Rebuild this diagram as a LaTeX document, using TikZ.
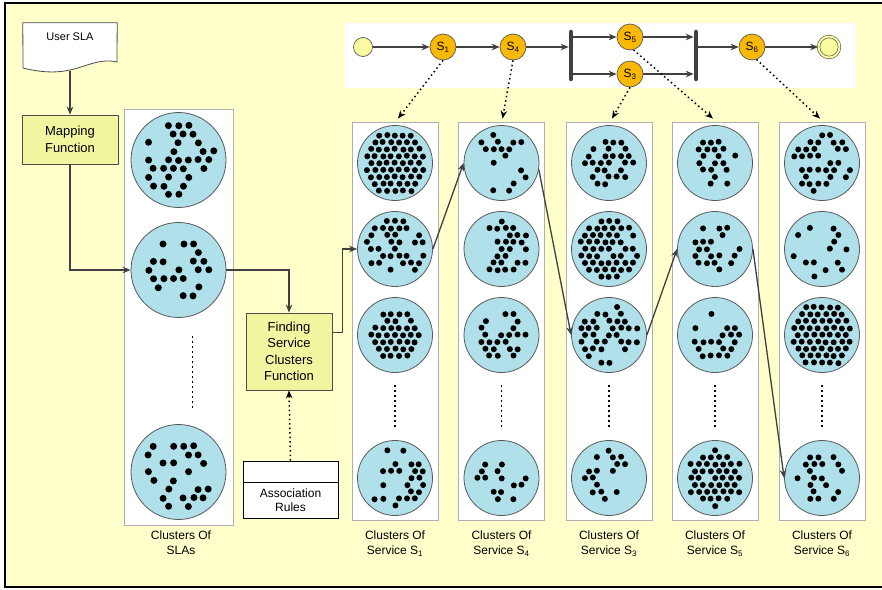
\documentclass[tikz,border=0pt]{standalone}
\usepackage{fontspec}
\setmainfont{Liberation Sans}
\usetikzlibrary{arrows.meta,calc}
\definecolor{bg}{RGB}{255,255,204}
\definecolor{boxy}{RGB}{242,245,160}
\definecolor{cblue}{RGB}{176,224,234}
\definecolor{stateor}{RGB}{250,184,0}
\definecolor{startc}{RGB}{250,250,160}
\definecolor{lin}{RGB}{64,64,64}
\definecolor{colgray}{RGB}{175,175,175}
% #1 x, #2 y, #3 limit radius, #4 probability, #5 spacing, #6 seed, #7 dot radius
\newcommand\dotcluster[7]{%
  \pgfmathsetseed{#6}%
  \foreach \i in {-5,...,5}{%
    \foreach \j in {-5,...,5}{%
      \pgfmathsetmacro\dx{#5*(\i+0.5*mod(abs(\j),2))}%
      \pgfmathsetmacro\dy{#5*0.866*\j}%
      \pgfmathsetmacro\rr{rnd}%
      \pgfmathtruncatemacro\ok{(veclen(\dx,\dy)<#3)&&(\rr<#4)}%
      \ifnum\ok=1 \fill (#1+\dx+rand*0.5,#2+\dy+rand*0.5) circle[radius=#7];\fi
    }}}
\begin{document}
\begin{tikzpicture}[x=1pt,y=-1pt,
  func/.style={draw=gray!60!black, fill=boxy, line width=0.8pt, align=center, font=\fontsize{13}{16.5}\selectfont, inner sep=0},
  colbox/.style={draw=colgray, fill=white, line width=0.9pt, inner sep=0},
  clus/.style={circle, draw=gray!70!black, fill=cblue, line width=0.8pt, minimum size=75pt, inner sep=0},
  slaclus/.style={clus, minimum size=95pt},
  state/.style={circle, draw=gray!70!black, fill=stateor, line width=0.7pt, minimum size=26pt, inner sep=0, font=\fontsize{12}{12}\selectfont},
  conn/.style={draw=lin, line width=1.3pt, -{Stealth[length=8pt,width=6.5pt]}},
  dotarr/.style={draw=black, line width=1.5pt, dash pattern=on 1.5pt off 3pt, -{Stealth[length=8pt,width=6.5pt]}},
  lbl/.style={align=center, font=\fontsize{12}{14.5}\selectfont, inner sep=0, anchor=north},
  bar/.style={line width=4.5pt, draw=lin, line cap=round},
  vdots/.style={line width=1.5pt, dash pattern=on 1.5pt off 3.5pt}
]
\useasboundingbox (0,0) rectangle (882,589);
\clip (0,0) rectangle (882,589);
% frame
\draw[line width=1.3pt, fill=bg] (5,3) rectangle (900,587);
% top panel
\fill[white] (345,23) rectangle (855,88);

% user SLA document
\node[inner sep=0, minimum width=94pt, minimum height=48pt] (usersla) at (70,47) {};
\draw[draw=gray!60!black, fill=white, line width=0.8pt] (usersla.north west) -- (usersla.north east) -- (117,62) .. controls (100,58) and (88,66) .. (70,70) .. controls (52,74) and (35,71) .. (23,68) -- cycle;
\node[font=\fontsize{11}{11}\selectfont, inner sep=0] (slatext) at (70,37) {User SLA};

% function boxes
\node[func, minimum width=96pt, minimum height=49pt] (map) at (70,139.5) {Mapping\\Function};
\node[func, minimum width=86pt, minimum height=77pt] (find) at (289,351.5) {Finding\\Service\\Clusters\\Function};

% association rules
\node[draw=black, fill=white, line width=0.8pt, minimum width=95pt, minimum height=57pt, inner sep=0] (assoc) at (290.5,489.5) {};
\draw[black, line width=0.8pt] (243,482) -- (338,482);
\node[font=\fontsize{12}{14.5}\selectfont, align=center, inner sep=0] (assoctext) at (290.5,500) {Association\\Rules};

% SLA column
\node[colbox, minimum width=109pt, minimum height=416pt] (slacol) at (178.5,317) {};
\node[slaclus] (sla1) at (178.5,160) {};
\node[slaclus] (sla2) at (178.5,270) {};
\node[slaclus] (sla3) at (178.5,472) {};
\draw[vdots] (192.5,336) -- (192.5,408);
\dotcluster{178.5}{160}{38}{0.45}{10}{11}{3.5}
\dotcluster{178.5}{270}{34}{0.36}{10}{17}{3.5}
\dotcluster{178.5}{472}{37}{0.36}{10}{13}{3.5}
\node[lbl] (lsla) at (181,531) {Clusters Of\\SLAs};

% service columns
\foreach \n/\x/\s in {1/395/1,2/501.5/4,3/609/3,4/715/5,5/822/6}{
  \node[colbox, minimum width=86pt, minimum height=398pt] (col\n) at (\x,321) {};
  \node[clus] (c\n a) at (\x,163) {};
  \node[clus] (c\n b) at (\x,249) {};
  \node[clus] (c\n c) at (\x,335) {};
  \node[clus] (c\n d) at (\x,478) {};
  \draw[vdots] (\x,385) -- (\x,428);
  \node[lbl] (l\n) at (\x,531) {Clusters Of\\Service S\textsubscript{\s}};
}
% dots S1
\dotcluster{395}{163}{32}{1}{8}{21}{3}
\dotcluster{395}{249}{31}{0.55}{8}{22}{3}
\dotcluster{395}{335}{27}{0.95}{8}{23}{3}
\dotcluster{395}{478}{30}{0.5}{8}{24}{3}
% dots S4
\dotcluster{501.5}{163}{30}{0.3}{8}{31}{3}
\dotcluster{501.5}{249}{28}{0.55}{8}{32}{3}
\dotcluster{501.5}{335}{26}{0.45}{8}{33}{3}
\dotcluster{501.5}{478}{26}{0.4}{8}{34}{3}
% dots S3
\dotcluster{609}{163}{26}{0.6}{8}{41}{3}
\dotcluster{609}{249}{29}{0.9}{8}{42}{3}
\dotcluster{609}{335}{30}{0.55}{8}{43}{3}
\dotcluster{609}{478}{28}{0.35}{8}{44}{3}
% dots S5
\dotcluster{715}{163}{24}{0.55}{8}{51}{3}
\dotcluster{715}{249}{26}{0.55}{8}{52}{3}
\dotcluster{715}{335}{25}{0.5}{8}{53}{3}
\dotcluster{715}{478}{28}{0.95}{8}{54}{3}
% dots S6
\dotcluster{822}{163}{31}{0.55}{8}{61}{3}
\dotcluster{822}{249}{29}{0.25}{8}{62}{3}
\dotcluster{822}{335}{32}{1}{8}{63}{3}
\dotcluster{822}{478}{25}{0.45}{8}{64}{3}

% workflow
\node[circle, draw=gray!70!black, fill=startc, line width=0.7pt, minimum size=19pt, inner sep=0] (start) at (363,47) {};
\node[state] (s1) at (443,47) {S\textsubscript{1}};
\node[state] (s4) at (513,47) {S\textsubscript{4}};
\node[state] (s5) at (630,37) {S\textsubscript{5}};
\node[state] (s3) at (630,74) {S\textsubscript{3}};
\node[state] (s6) at (752,47) {S\textsubscript{6}};
\node[circle, draw=gray!60!black, fill=startc, double=startc, double distance=2pt, line width=0.6pt, minimum size=21pt, inner sep=0] (final) at (829,47) {};
\coordinate (b1t) at (571,32);
\coordinate (b1b) at (571,79);
\coordinate (b2t) at (696,32);
\coordinate (b2b) at (696,79);
\draw[bar] (b1t) -- (b1b);
\draw[bar] (b2t) -- (b2b);
\draw[conn] (start.east) -- (s1.west);
\draw[conn] (s1.east) -- (s4.west);
\draw[conn, shorten >=2.3pt] (s4.east) -- (s4.east -| b1t);
\draw[conn, shorten <=2.3pt] (b1t |- s5) -- (s5.west);
\draw[conn, shorten <=2.3pt] (b1t |- s3) -- (s3.west);
\draw[conn, shorten >=2.3pt] (s5.east) -- (s5.east -| b2t);
\draw[conn, shorten >=2.3pt] (s3.east) -- (s3.east -| b2t);
\draw[conn, shorten <=2.3pt] (b2t |- s6) -- (s6.west);
\draw[conn] (s6.east) -- (final.west);

% dotted mappings
\draw[dotarr] (s1.south) -- ([xshift=3pt,yshift=3pt]col1.north);
\draw[dotarr] (s4.south) -- ([xshift=1pt,yshift=3pt]col2.north);
\draw[dotarr] (s3.south) -- ([xshift=3pt,yshift=3pt]col3.north);
\draw[dotarr] (s5.-75) -- ([xshift=-2pt,yshift=3pt]col4.north);
\draw[dotarr] (s6.-70) -- ([xshift=-2pt,yshift=3pt]col5.north);
\draw[dotarr] (assoc.north) -- (find.south);

% solid flow
\draw[conn] (usersla.south) -- (map.north);
\draw[conn] (map.south) |- (sla2.west);
\draw[conn] (sla2.east) -| (find.north);
\draw[conn] ([yshift=-20pt]find.north east) -- ++(10,0) |- (c1b.west);
\draw[conn] (c1b.east) -- (c2a.west);
\draw[conn] (c2a.-10) -- (c3c.west);
\draw[conn] (c3c.east) -- (c4b.west);
\draw[conn] (c4b.east) -- (c5d.west);
\end{tikzpicture}
\end{document}
